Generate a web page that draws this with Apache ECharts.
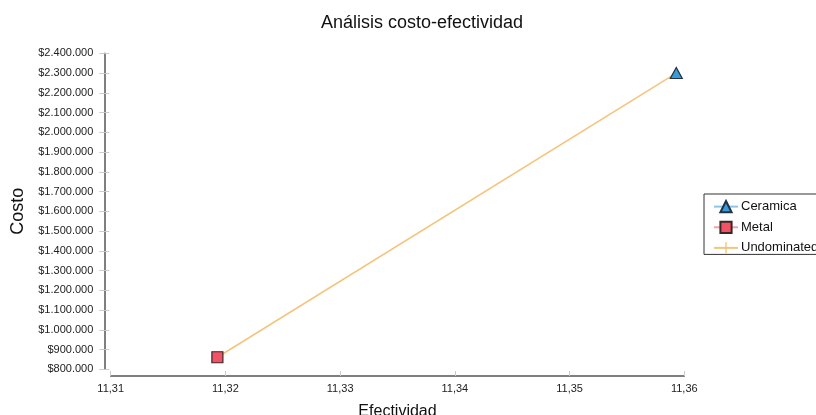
<!DOCTYPE html>
<html>
<head>
<meta charset="utf-8">
<script src="https://cdn.jsdelivr.net/npm/echarts@6/dist/echarts.min.js"></script>
<style>html,body{margin:0;padding:0;background:#fff;}#c{width:816px;height:415px;}</style>
</head>
<body>
<div id="c"></div>
<script>
const seriesNames = ['Ceramica', 'Metal', 'Undominated'];
const ceramica = [[11.3593, 2300000]];
const metal = [[11.3193, 861000]];
const undominated = [[11.3193, 861000], [11.3593, 2300000]];
const xTicks = {min: 11.31, max: 11.36, interval: 0.01};
const yTicks = {min: 800000, max: 2400000, interval: 100000};

const FONT = 'Liberation Sans, Arial, Helvetica, sans-serif';
function fmtMoney(v) {
  return '$' + Math.round(v).toString().replace(/\B(?=(\d{3})+(?!\d))/g, '.');
}
const chart = echarts.init(document.getElementById('c'), null, {renderer: 'canvas'});
const plusPath = 'path://M0,4.85h10v0.3h-10z M4.4,0h1.2v10h-1.2z';
chart.setOption({
  backgroundColor: '#fff',
  animation: false,
  textStyle: {fontFamily: FONT},
  title: {
    text: 'Análisis costo-efectividad',
    left: 316, top: 9,
    textStyle: {fontFamily: FONT, fontSize: 18, fontWeight: 'normal', color: '#111'}
  },
  legend: {
    orient: 'vertical',
    left: 704, top: 194,
    padding: [6, 40, 0, 9],
    borderColor: '#333', borderWidth: 1,
    itemWidth: 24, itemHeight: 14, itemGap: 7.5,
    textStyle: {fontFamily: FONT, fontSize: 13, color: '#111', padding: [0, 0, 0, -2]},
    data: seriesNames
  },
  grid: {left: 110.7, right: 131.7, top: 53.3, bottom: 45.7, containLabel: false, outerBoundsMode: 'none'},
  xAxis: {
    type: 'value',
    min: xTicks.min, max: xTicks.max, interval: xTicks.interval,
    offset: 6.7,
    name: 'Efectividad', nameLocation: 'middle', nameGap: 28,
    nameTextStyle: {fontFamily: FONT, fontSize: 16, color: '#111'},
    axisLine: {show: true, lineStyle: {color: '#555', width: 1.5}},
    axisTick: {show: true, inside: true, length: 5, lineStyle: {color: '#ccc'}},
    axisLabel: {fontFamily: FONT, fontSize: 11, color: '#222', margin: 7,
      formatter: v => v.toFixed(2).replace('.', ',')},
    splitLine: {show: false}
  },
  yAxis: [{
    type: 'value',
    min: yTicks.min, max: yTicks.max, interval: yTicks.interval,
    offset: 6.4,
    name: 'Costo', nameLocation: 'middle', nameGap: 76,
    nameTextStyle: {fontFamily: FONT, fontSize: 18, color: '#111'},
    axisLine: {show: true, lineStyle: {color: '#555', width: 1.5}},
    axisTick: {show: true, length: 5, lineStyle: {color: '#ccc'}},
    axisLabel: {fontFamily: FONT, fontSize: 11, color: '#222', margin: 11, formatter: fmtMoney},
    splitLine: {show: false}
  }, {
    type: 'value',
    min: yTicks.min, max: yTicks.max, interval: yTicks.interval,
    position: 'left', offset: 6.4,
    axisLine: {show: false},
    axisTick: {show: true, inside: true, length: 5, lineStyle: {color: '#ccc'}},
    axisLabel: {show: false},
    splitLine: {show: false}
  }],
  series: [
    {
      name: 'Ceramica', type: 'line', data: ceramica, z: 5,
      symbol: 'triangle', symbolSize: [12, 11], showSymbol: true,
      lineStyle: {color: '#8cc4ea', width: 1.5},
      itemStyle: {color: '#3d9ad6', borderColor: '#1f3444', borderWidth: 1.2, opacity: 1}
    },
    {
      name: 'Metal', type: 'line', data: metal, z: 5,
      symbol: 'rect', symbolSize: 11, showSymbol: true,
      lineStyle: {color: '#f2a0aa', width: 1.5},
      itemStyle: {color: '#f25266', borderColor: '#3a2626', borderWidth: 1.2, opacity: 1}
    },
    {
      name: 'Undominated', type: 'line', data: undominated, z: 2,
      symbol: plusPath, symbolSize: [10, 10], showSymbol: false,
      lineStyle: {color: '#f5c47a', width: 1.5},
      itemStyle: {color: '#f5c47a', opacity: 1}
    }
  ]
});
</script>
</body>
</html>
